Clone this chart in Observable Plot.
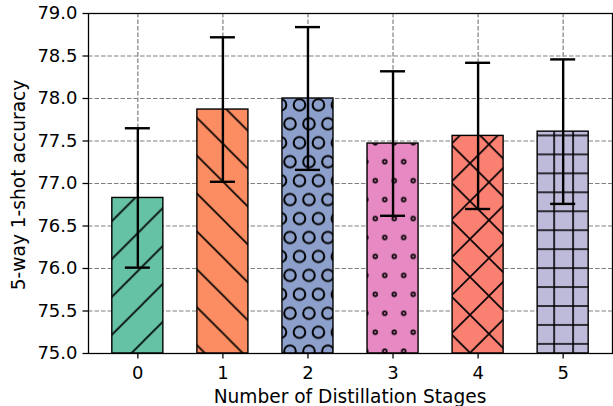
<!DOCTYPE html>
<html>
<head>
<meta charset="utf-8">
<script src="https://cdn.jsdelivr.net/npm/d3@7"></script>
<script src="https://cdn.jsdelivr.net/npm/@observablehq/plot@0.6"></script>
<style>
  html, body { margin: 0; padding: 0; background: #fff; }
  svg { display: block; }
</style>
</head>
<body>
<div id="chart"></div>
<script>
// ---- data ----
const stages = [0, 1, 2, 3, 4, 5];
const accuracy = [76.83, 77.87, 78.00, 77.47, 77.56, 77.61];
const errors = [0.82, 0.85, 0.84, 0.85, 0.86, 0.85];
const colors = ["#66c2a5", "#fc8d62", "#8da0cb", "#e78ac3", "#fa8072", "#bebada"];
const hatches = ["slash", "backslash", "circles", "dots", "cross", "plus"];
const yTicks = [75.0, 75.5, 76.0, 76.5, 77.0, 77.5, 78.0, 78.5, 79.0];
const xLabel = "Number of Distillation Stages";
const yLabel = "5-way 1-shot accuracy";

const data = stages.map((s, i) => ({
  stage: s,
  value: accuracy[i],
  err: errors[i],
  color: colors[i],
  hatch: `url(#hatch-${hatches[i]})`
}));

const W = 613, H = 406;
const halfBar = 0.3, capHalf = 0.147;
const font = "DejaVu Sans";
const tickFont = 18;
const gridStyle = { stroke: "#808080", strokeOpacity: 1, strokeWidth: 1.2, strokeDasharray: "4.5,2" };

const plot = Plot.plot({
  width: W,
  height: H,
  marginLeft: 88,
  marginRight: 1,
  marginTop: 13,
  marginBottom: 53,
  style: { fontFamily: font, fontSize: tickFont + "px", color: "black", background: "white", overflow: "visible" },
  x: { domain: [-0.58, 5.58] },
  y: { domain: [75, 79] },
  color: { type: "identity" },
  marks: [
    Plot.gridY(yTicks, gridStyle),
    Plot.gridX(stages, gridStyle),
    Plot.rectY(data, { x1: d => d.stage - halfBar, x2: d => d.stage + halfBar, y1: 75, y2: "value", fill: "color" }),
    Plot.rectY(data, { x1: d => d.stage - halfBar, x2: d => d.stage + halfBar, y1: 75, y2: "value", fill: "hatch", stroke: "black", strokeWidth: 1.4 }),
    Plot.ruleX(data, { x: "stage", y1: d => d.value - d.err, y2: d => d.value + d.err, stroke: "black", strokeWidth: 2.4 }),
    Plot.ruleY(data, { y: d => d.value + d.err, x1: d => d.stage - capHalf, x2: d => d.stage + capHalf, stroke: "black", strokeWidth: 2.4 }),
    Plot.ruleY(data, { y: d => d.value - d.err, x1: d => d.stage - capHalf, x2: d => d.stage + capHalf, stroke: "black", strokeWidth: 2.4 }),
    Plot.axisY(yTicks, { tickFormat: d3.format(".1f"), tickSize: 5.5, tickPadding: 5.5, label: null, strokeWidth: 1.27, fontSize: tickFont }),
    Plot.axisX(stages, { tickFormat: d => String(d), tickSize: 5.5, tickPadding: 7.5, label: null, strokeWidth: 1.27, fontSize: tickFont }),
    Plot.frame({ stroke: "black", strokeWidth: 1.27 })
  ]
});

// ---- hatch patterns ----
const svg = d3.select(plot);
const defs = svg.insert("defs", ":first-child");
const P = 37.9, S = 18.95, HW = 1.6;

function pattern(id, w, h, ox, oy) {
  return defs.append("pattern")
    .attr("id", "hatch-" + id)
    .attr("patternUnits", "userSpaceOnUse")
    .attr("x", ox).attr("y", oy)
    .attr("width", w).attr("height", h);
}
function path(p, d) {
  p.append("path").attr("d", d).attr("fill", "none").attr("stroke", "black").attr("stroke-width", HW);
}
const e = 3;
const slashD = `M${-e},${e}L${e},${-e}M${-e},${P + e}L${P + e},${-e}M${P - e},${P + e}L${P + e},${P - e}`;
const backD = `M${-e},${-e}L${P + e},${P + e}M${-e},${P - e}L${e},${P + e}M${P - e},${-e}L${P + e},${e}`;

path(pattern("slash", P, P, 29.8, 0), slashD);
path(pattern("backslash", P, P, 0, 34.5), backD);
path(pattern("cross", P, P, -3.75, 30.65), slashD + backD);
path(pattern("plus", S, S, 4.6, 2.8), `M0,-1V${S + 1}M${S},-1V${S + 1}M-1,0H${S + 1}M-1,${S}H${S + 1}`);

function shapes(id, r, sw) {
  const p = pattern(id, S, P, 5.75, 10.1);
  const pts = [[0, 0], [S, 0], [0, P], [S, P], [S / 2, P / 2]];
  for (const [cx, cy] of pts) {
    p.append("circle").attr("cx", cx).attr("cy", cy).attr("r", r)
      .attr("fill", "none").attr("stroke", "black").attr("stroke-width", sw);
  }
}
shapes("circles", 5.8, 2.0);
shapes("dots", 1.9, 1.6);

// ---- axis labels ----
svg.append("text")
  .attr("x", 350).attr("y", 403.3)
  .attr("text-anchor", "middle")
  .attr("font-family", font).attr("font-size", 18.6).attr("fill", "black")
  .text(xLabel);
svg.append("text")
  .attr("transform", "translate(25.2,185) rotate(-90)")
  .attr("text-anchor", "middle")
  .attr("font-family", font).attr("font-size", 18.6).attr("fill", "black")
  .text(yLabel);

document.getElementById("chart").appendChild(plot);
</script>
</body>
</html>
